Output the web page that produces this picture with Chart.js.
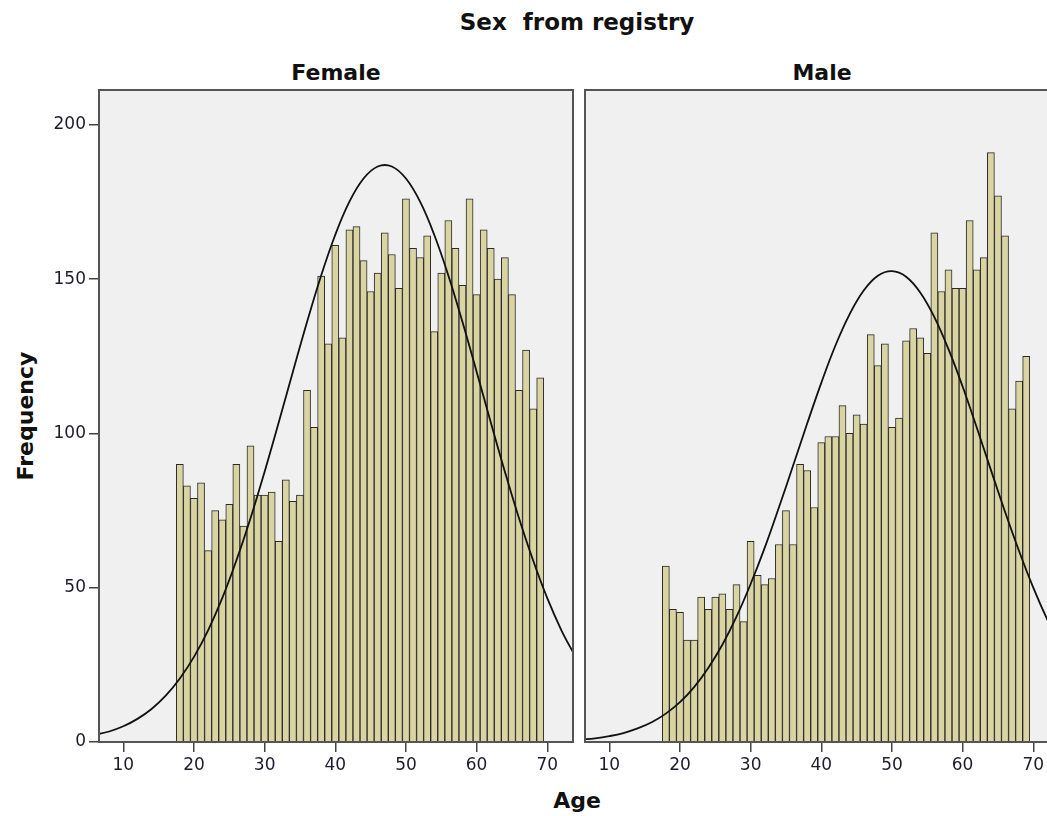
<!DOCTYPE html>
<html>
<head>
<meta charset="utf-8">
<title>Age histogram by sex</title>
<script src="https://cdn.jsdelivr.net/npm/chart.js@4/dist/chart.umd.min.js"></script>
<style>
    html, body { margin: 0; padding: 0; background: #fff; }
    body { width: 1047px; height: 816px; overflow: hidden; position: relative; font-family: "DejaVu Sans", sans-serif; color: #111; }
    .lbl { position: absolute; font-weight: bold; white-space: nowrap; transform: translate(-50%, -50%); }
    canvas { position: absolute; top: 0; }
</style>
</head>
<body>
<div class="lbl" style="left:577px; top:22px; font-size:23px;">Sex&nbsp; from registry</div>
<div class="lbl" style="left:336px; top:72px; font-size:22px;">Female</div>
<div class="lbl" style="left:822px; top:72px; font-size:22px;">Male</div>
<div class="lbl" style="left:25px; top:416px; font-size:22px; transform:translate(-50%,-50%) rotate(-90deg);">Frequency</div>
<div class="lbl" style="left:577px; top:800px; font-size:22px;">Age</div>
<canvas id="femaleChart" width="580" height="816" style="left:0"></canvas>
<canvas id="maleChart" width="486" height="816" style="left:580px"></canvas>
<script>
// Age bins (one year each)
const ages = [18, 19, 20, 21, 22, 23, 24, 25, 26, 27, 28, 29, 30, 31, 32, 33, 34, 35, 36, 37,
              38, 39, 40, 41, 42, 43, 44, 45, 46, 47, 48, 49, 50, 51, 52, 53, 54, 55, 56, 57,
              58, 59, 60, 61, 62, 63, 64, 65, 66, 67, 68, 69];

const femaleCounts = [90, 83, 79, 84, 62, 75, 72, 77, 90, 70, 96, 80, 80, 81, 65, 85, 78, 80, 114, 102,
                      151, 129, 161, 131, 166, 167, 156, 146, 152, 165, 158, 147, 176, 160, 157, 164, 133, 152, 169, 160,
                      148, 176, 145, 166, 160, 150, 157, 145, 114, 127, 108, 118];

const maleCounts = [57, 43, 42, 33, 33, 47, 43, 47, 48, 43, 51, 39, 65, 54, 51, 53, 64, 75, 64, 90,
                    88, 76, 97, 99, 99, 109, 100, 106, 103, 132, 122, 129, 102, 105, 130, 134, 131, 126, 165, 146,
                    153, 147, 147, 169, 153, 157, 191, 177, 164, 108, 117, 125];

// normal curve, every 2 years
const curveAges = [6, 8, 10, 12, 14, 16, 18, 20, 22, 24, 26, 28, 30, 32, 34, 36, 38, 40,
                   42, 44, 46, 48, 50, 52, 54, 56, 58, 60, 62, 64, 66, 68, 70, 72, 74];
const femaleCurve = [2.3, 3.4, 5.1, 7.5, 10.7, 15.0, 20.6, 27.6, 36.2, 46.6, 58.8, 72.5, 87.6, 103.6, 120.0, 136.1, 151.2, 164.4,
                     175.1, 182.6, 186.5, 186.5, 182.6, 175.1, 164.4, 151.2, 136.1, 120.0, 103.6, 87.6, 72.5, 58.8, 46.6, 36.2, 27.6];
const maleCurve = [0.8, 1.2, 1.9, 2.9, 4.4, 6.4, 9.2, 12.9, 17.8, 24.0, 31.5, 40.6, 51.2, 63.0, 76.0, 89.5, 103.2, 116.4,
                   128.5, 138.6, 146.3, 151.1, 152.6, 150.8, 145.7, 137.7, 127.3, 115.2, 101.9, 88.2, 74.6, 61.8, 50.0, 39.6, 30.7];

const xTicks = [10, 20, 30, 40, 50, 60, 70];
const yTicks = [0, 50, 100, 150, 200];

const X_MIN = 6.56, X_MAX = 73.64;
const Y_MAX = 211.3;

const panelBox = {
    id: 'panelBox',
    beforeDraw(chart) {
        const a = chart.chartArea;
        const ctx = chart.ctx;
        ctx.save();
        ctx.fillStyle = '#f0f0f0';
        ctx.fillRect(a.left, a.top, a.right - a.left, a.bottom - a.top);
        ctx.restore();
    },
    afterDraw(chart) {
        const a = chart.chartArea;
        const ctx = chart.ctx;
        ctx.save();
        ctx.strokeStyle = '#555';
        ctx.lineWidth = 2;
        ctx.strokeRect(a.left, a.top, a.right - a.left, a.bottom - a.top);
        ctx.restore();
    }
};

function makeChart(id, counts, curve, showY) {
    const ctx = document.getElementById(id).getContext('2d');
    return new Chart(ctx, {
        type: 'bar',
        data: {
            datasets: [{
                type: 'line',
                data: curveAges.map((a, i) => ({ x: a, y: curve[i] })),
                borderColor: '#111',
                borderWidth: 1.8,
                pointRadius: 0,
                tension: 0.4,
                fill: false,
                clip: 0,
                order: 0
            }, {
                type: 'bar',
                data: ages.map((a, i) => ({ x: a, y: counts[i] })),
                backgroundColor: '#d9d4a2',
                borderColor: '#2a2a2a',
                borderWidth: 1,
                barPercentage: 1,
                categoryPercentage: 1,
                order: 1
            }]
        },
        options: {
            responsive: false,
            animation: false,
            devicePixelRatio: 1,
            layout: {
                padding: { left: showY ? 40 : 5, right: 7, top: 90, bottom: 40 }
            },
            plugins: {
                legend: { display: false },
                title: { display: false },
                tooltip: { enabled: false }
            },
            scales: {
                x: {
                    type: 'linear',
                    offset: false,
                    min: X_MIN,
                    max: X_MAX,
                    afterBuildTicks: scale => { scale.ticks = xTicks.map(v => ({ value: v })); },
                    afterFit: scale => { scale.height = 34; },
                    border: { display: false },
                    grid: { offset: false, drawOnChartArea: false, drawTicks: true, tickLength: 10, color: '#444', lineWidth: 1.5 },
                    ticks: { color: '#1c1c2c', font: { family: 'DejaVu Sans', size: 17 }, padding: 3, maxRotation: 0 }
                },
                y: {
                    display: showY,
                    min: 0,
                    max: Y_MAX,
                    afterBuildTicks: scale => { scale.ticks = yTicks.map(v => ({ value: v })); },
                    afterFit: scale => { if (showY) scale.width = 59; },
                    border: { display: false },
                    grid: { drawOnChartArea: false, drawTicks: true, tickLength: 10, color: '#444', lineWidth: 1.5 },
                    ticks: { color: '#1c1c2c', font: { family: 'DejaVu Sans', size: 17 }, padding: 3 }
                }
            }
        },
        plugins: [panelBox]
    });
}

makeChart('femaleChart', femaleCounts, femaleCurve, true);
makeChart('maleChart', maleCounts, maleCurve, false);
</script>
</body>
</html>
